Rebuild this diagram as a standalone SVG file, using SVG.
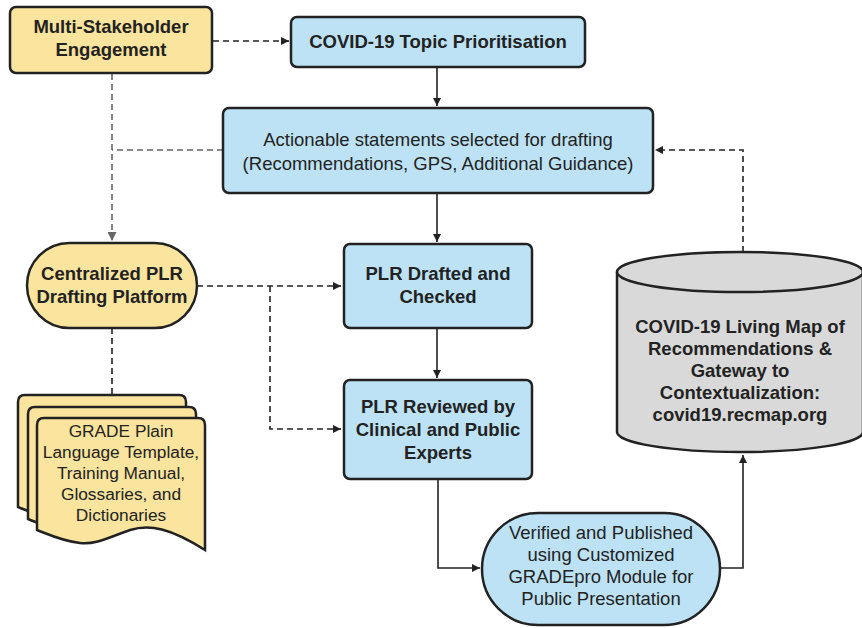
<svg xmlns="http://www.w3.org/2000/svg" width="862" height="628" viewBox="0 0 862 628">
<defs>
<style>
.box{stroke:#222;stroke-width:2.5}
.y{fill:#fbe49d}
.b{fill:#bde2f6}
.g{fill:#d9d9d9}
.t{font-family:"Liberation Sans",Arial,sans-serif;font-size:18.5px;fill:#222;text-anchor:middle}
.s{font-size:17.3px}
.bold{font-weight:bold}
.solid{fill:none;stroke:#222;stroke-width:1.6}
.dash{fill:none;stroke:#222;stroke-width:1.6;stroke-dasharray:6,4}
.dashg{fill:none;stroke:#666;stroke-width:1.6;stroke-dasharray:6,4}
</style>
<marker id="ah" viewBox="0 0 10 10" refX="10" refY="5" markerWidth="8" markerHeight="8" markerUnits="userSpaceOnUse" orient="auto"><path d="M0,0 L10,5 L0,10 z" fill="#222"/></marker>
<marker id="ahg" viewBox="0 0 10 10" refX="10" refY="5" markerWidth="9" markerHeight="9" markerUnits="userSpaceOnUse" orient="auto"><path d="M0,0 L10,5 L0,10 z" fill="#666"/></marker>
<path id="docshape" d="M44,418 L198,418 Q205,418 205,425 L205,550 C170,528 150,524 130,530 C110,537 95,545 80,543 C62,541 50,535 37,530 L37,425 Q37,418 44,418 Z"/>
</defs>

<g id="connectors">
<path class="dash" d="M213,41 L289,41" marker-end="url(#ah)"/>
<path class="solid" d="M437,67 L437,106" marker-end="url(#ah)"/>
<path class="dashg" d="M112,74 L112,241" marker-end="url(#ahg)"/>
<path class="dashg" d="M223,150 L112,150"/>
<path class="solid" d="M437,193 L437,242" marker-end="url(#ah)"/>
<path class="solid" d="M437,328 L437,378" marker-end="url(#ah)"/>
<path class="dash" d="M197,286 L341,286" marker-end="url(#ah)"/>
<path class="dash" d="M270,286 L270,429 L341,429" marker-end="url(#ah)"/>
<path class="dash" d="M112,328 L112,395"/>
<path class="solid" d="M438,479 L438,568 L480,568" marker-end="url(#ah)"/>
<path class="solid" d="M720,568 L743,568 L743,455" marker-end="url(#ah)"/>
<path class="dash" d="M743,252 L743,150 L655,150" marker-end="url(#ah)"/>
</g>

<g id="multi-stakeholder">
<rect class="box y" x="10" y="7" width="202" height="66" rx="6"/>
<text class="t bold" x="111" y="33">Multi-Stakeholder</text>
<text class="t bold" x="111" y="56">Engagement</text>
</g>

<g id="topic-prioritisation">
<rect class="box b" x="291" y="17" width="294" height="50" rx="6"/>
<text class="t bold" x="438" y="48">COVID-19 Topic Prioritisation</text>
</g>

<g id="actionable">
<rect class="box b" x="223" y="108" width="430" height="85" rx="6"/>
<text class="t" x="438" y="146">Actionable statements selected for drafting</text>
<text class="t" x="438" y="170">(Recommendations, GPS, Additional Guidance)</text>
</g>

<g id="centralized">
<rect class="box y" x="27" y="243" width="170" height="85" rx="42.5"/>
<text class="t bold" x="112" y="280">Centralized PLR</text>
<text class="t bold" x="112" y="303">Drafting Platform</text>
</g>

<g id="documents">
<use href="#docshape" class="box y" transform="translate(-19,-23)"/>
<use href="#docshape" class="box y" transform="translate(-9,-11)"/>
<use href="#docshape" class="box y"/>
<text class="t s" x="121" y="437">GRADE Plain</text>
<text class="t s" x="121" y="458">Language Template,</text>
<text class="t s" x="121" y="479">Training Manual,</text>
<text class="t s" x="121" y="500">Glossaries, and</text>
<text class="t s" x="121" y="521">Dictionaries</text>
</g>

<g id="plr-drafted">
<rect class="box b" x="344" y="244" width="188" height="84" rx="6"/>
<text class="t bold" x="438" y="280">PLR Drafted and</text>
<text class="t bold" x="438" y="303">Checked</text>
</g>

<g id="plr-reviewed">
<rect class="box b" x="344" y="380" width="188" height="99" rx="6"/>
<text class="t bold" x="438" y="413">PLR Reviewed by</text>
<text class="t bold" x="438" y="436">Clinical and Public</text>
<text class="t bold" x="438" y="459">Experts</text>
</g>

<g id="verified">
<rect class="box b" x="482" y="513" width="238" height="112" rx="56"/>
<text class="t" x="601" y="539">Verified and Published</text>
<text class="t" x="601" y="561">using Customized</text>
<text class="t" x="601" y="583">GRADEpro Module for</text>
<text class="t" x="601" y="605">Public Presentation</text>
</g>

<g id="living-map">
<path class="box g" d="M617,272 L617,432 A123,20 0 0 0 863,432 L863,272"/>
<ellipse class="box g" cx="740" cy="272" rx="123" ry="20"/>
<text class="t bold" x="740" y="333">COVID-19 Living Map of</text>
<text class="t bold" x="740" y="355">Recommendations &amp;</text>
<text class="t bold" x="740" y="377">Gateway to</text>
<text class="t bold" x="740" y="399">Contextualization:</text>
<text class="t bold" x="740" y="421">covid19.recmap.org</text>
</g>
</svg>
